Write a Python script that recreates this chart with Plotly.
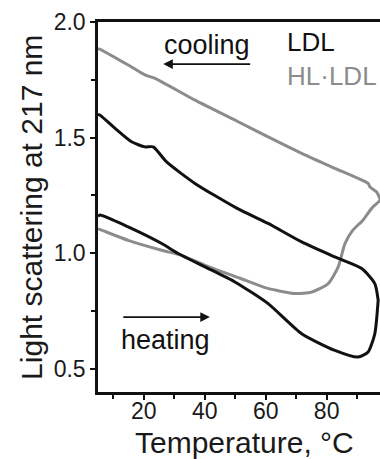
import plotly.graph_objects as go

# LDL (black) loop: heating from low T, then cooling back
ldl_heat_T = [5.0, 5.7, 14.9, 25.9, 31.3, 40.1, 49.9, 60.8, 71.8, 82.7, 90.3, 93.6, 95.8, 96.9]
ldl_heat_S = [1.16, 1.165, 1.114, 1.042, 0.999, 0.941, 0.876, 0.782, 0.652, 0.580, 0.551, 0.573, 0.652, 0.797]
ldl_cool_T = [96.9, 95.8, 91.5, 82.7, 71.8, 60.8, 50.5, 36.8, 27.5, 23.1, 20.4, 16.0, 10.6, 5.7, 5.0]
ldl_cool_S = [0.797, 0.869, 0.934, 0.984, 1.049, 1.129, 1.195, 1.302, 1.395, 1.460, 1.460, 1.482, 1.540, 1.597, 1.60]

# HL·LDL (gray) loop
hl_heat_T = [5.0, 5.3, 14.9, 25.9, 32.4, 40.1, 51.6, 60.7, 69.6, 75.1, 80.5, 83.8, 86.0, 88.6, 91.9, 94.8, 97.5]
hl_heat_S = [1.105, 1.104, 1.056, 1.013, 0.991, 0.948, 0.892, 0.848, 0.826, 0.832, 0.869, 0.941, 1.042, 1.100, 1.143, 1.195, 1.229]
hl_cool_T = [97.5, 96.4, 94.2, 93.6, 82.7, 71.8, 60.8, 50.5, 36.8, 23.7, 20.4, 14.9, 5.7, 5.0]
hl_cool_S = [1.235, 1.265, 1.287, 1.302, 1.367, 1.432, 1.503, 1.572, 1.662, 1.756, 1.771, 1.814, 1.882, 1.885]

FONT = "Liberation Sans, Arial, sans-serif"
BLACK = "#111111"
GRAY = "#8c8c8c"
TXT = "#1a1a1a"

fig = go.Figure()
fig.add_trace(go.Scatter(x=hl_heat_T + hl_cool_T, y=hl_heat_S + hl_cool_S, mode="lines",
                         line=dict(color=GRAY, width=3, shape="spline", smoothing=0.6),
                         showlegend=False, hoverinfo="skip"))
fig.add_trace(go.Scatter(x=ldl_heat_T + ldl_cool_T, y=ldl_heat_S + ldl_cool_S, mode="lines",
                         line=dict(color=BLACK, width=3, shape="spline", smoothing=0.6),
                         showlegend=False, hoverinfo="skip"))

# text labels
fig.add_annotation(x=40.9, y=1.900, xref="x", yref="y", text="cooling", showarrow=False,
                   font=dict(family=FONT, size=27, color=BLACK))
fig.add_annotation(x=26.4, y=1.818, ax=55.4, ay=1.818, xref="x", yref="y", axref="x", ayref="y",
                   text="", showarrow=True, arrowhead=2, arrowsize=1.2, arrowwidth=1.6, arrowcolor=BLACK)
fig.add_annotation(x=27.3, y=0.623, xref="x", yref="y", text="heating", showarrow=False,
                   font=dict(family=FONT, size=27, color=BLACK))
fig.add_annotation(x=41.7, y=0.724, ax=12.8, ay=0.724, xref="x", yref="y", axref="x", ayref="y",
                   text="", showarrow=True, arrowhead=2, arrowsize=1.2, arrowwidth=1.6, arrowcolor=BLACK)
fig.add_annotation(x=66.3, y=1.913, xref="x", yref="y", text="LDL", showarrow=False, xanchor="left",
                   font=dict(family=FONT, size=26, color=BLACK))
fig.add_annotation(x=66.3, y=1.768, xref="x", yref="y", text="HL·LDL", showarrow=False, xanchor="left",
                   font=dict(family=FONT, size=26, color=GRAY))

# axis titles
fig.add_annotation(x=0.518, y=-0.1375, xref="paper", yref="paper", text="Temperature, °C",
                   showarrow=False, xanchor="center", yanchor="middle",
                   font=dict(family=FONT, size=30, color=TXT))
fig.add_annotation(x=-0.238, y=0.5, xref="paper", yref="paper", text="Light scattering at 217 nm",
                   showarrow=False, textangle=-90, xanchor="center", yanchor="middle",
                   font=dict(family=FONT, size=30, color=TXT))

fig.update_layout(
    width=380, height=459,
    margin=dict(l=98, r=0, t=22, b=67),
    plot_bgcolor="white", paper_bgcolor="white",
    font=dict(family=FONT, color=TXT),
)
fig.update_xaxes(
    range=[5, 97.5], tick0=0, dtick=20, ticks="outside", ticklen=5, tickwidth=2, tickcolor=BLACK,
    minor=dict(dtick=10, tick0=0, ticks="outside", ticklen=4, tickwidth=2, tickcolor=BLACK, showgrid=False),
    showline=True, linewidth=2.5, linecolor=BLACK, mirror=True, showgrid=False, zeroline=False,
    tickfont=dict(size=23, family=FONT, color=TXT), ticklabelstandoff=-8,
)
fig.update_yaxes(
    range=[0.4, 2.0], tick0=0, dtick=0.5, ticks="outside", ticklen=5, tickwidth=2, tickcolor=BLACK,
    minor=dict(dtick=0.25, tick0=0, ticks="outside", ticklen=4, tickwidth=2, tickcolor=BLACK, showgrid=False),
    showline=True, linewidth=2.5, linecolor=BLACK, mirror=False, showgrid=False, zeroline=False,
    tickformat=".1f",
    tickfont=dict(size=23, family=FONT, color=TXT),
)

fig.write_html("out.html")
